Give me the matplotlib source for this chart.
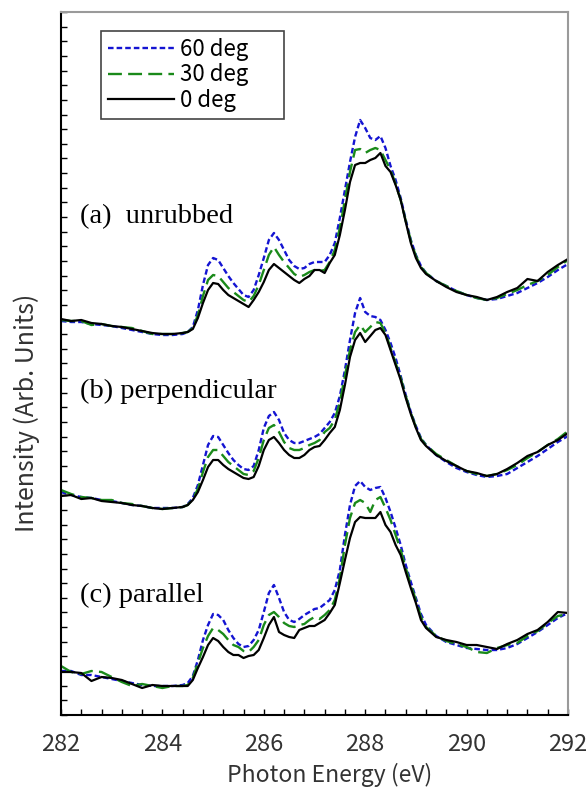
import matplotlib
matplotlib.use('Agg')
import matplotlib.pyplot as plt
from matplotlib.ticker import MultipleLocator, NullFormatter

plt.rcParams['lines.scale_dashes'] = False

# Photon energy grid (eV)
energy = [282.0, 282.2, 282.4, 282.6, 282.8, 283.0, 283.2, 283.4, 283.6, 283.8, 284.0, 284.2, 284.4,
          284.5, 284.6, 284.7, 284.8, 284.9, 285.0, 285.1, 285.2, 285.3, 285.4, 285.5, 285.6, 285.7,
          285.8, 285.9, 286.0, 286.1, 286.2, 286.3, 286.4, 286.5, 286.6, 286.7, 286.8, 286.9, 287.0,
          287.1, 287.2, 287.3, 287.4, 287.5, 287.6, 287.7, 287.8, 287.9, 288.0, 288.1, 288.2, 288.3,
          288.4, 288.5, 288.6, 288.7, 288.8, 288.9, 289.0, 289.1, 289.2,
          289.4, 289.6, 289.8, 290.0, 290.2, 290.4, 290.6, 290.8, 291.0, 291.2, 291.4, 291.6, 291.8, 292.0]

# (a) unrubbed (offset intensities, arb. units)
a_60 = [394, 393, 393, 391, 390, 389, 387, 385, 383, 381, 380, 380, 381,
        383, 388, 405, 430, 450, 457, 455, 447, 439, 432, 426, 420, 418, 425, 440, 457, 475, 482, 475,
        465, 455, 449, 446, 447, 451, 453, 453, 453, 460, 472, 497, 525, 553, 578, 595, 587, 577, 575,
        579, 567, 549, 535, 517, 495, 475, 460, 449, 442,
        434, 429, 424, 420, 417, 415, 416, 419, 422, 427, 432, 438, 445, 451]
a_30 = [395, 394, 394, 390, 391, 389, 388, 387, 384, 381, 381, 381, 382,
        383, 387, 400, 419, 435, 440, 439, 433, 427, 423, 419, 415, 413, 419, 430, 445, 460, 468, 460,
        453, 447, 441, 438, 440, 443, 445, 444, 445, 453, 465, 487, 515, 543, 565, 566, 562, 565, 567,
        565, 555, 545, 531, 515, 494, 474, 459, 448, 442,
        434, 429, 424, 420, 417, 415, 417, 421, 425, 430, 434, 440, 448, 455]
a_0 = [396, 394, 395, 392, 391, 389, 388, 386, 384, 382, 381, 381, 382,
       383, 386, 397, 412, 425, 432, 431, 425, 420, 417, 414, 411, 408, 415, 423, 433, 445, 451, 447,
       443, 439, 435, 432, 436, 439, 445, 445, 442, 452, 460, 480, 505, 533, 550, 552, 552, 555, 557,
       562, 549, 543, 530, 515, 493, 472, 457, 447, 441,
       434, 428, 423, 420, 418, 415, 418, 423, 427, 436, 434, 443, 450, 456]

# (b) perpendicular
b_60 = [223, 220, 218, 217, 215, 214, 212, 210, 209, 207, 207, 207, 208,
        211, 217, 230, 250, 270, 279, 278, 270, 262, 255, 250, 246, 245, 249, 265, 287, 299, 303, 295,
        282, 275, 272, 272, 274, 276, 278, 281, 287, 293, 302, 319, 345, 375, 402, 417, 403, 399, 398,
        395, 385, 372, 357, 339, 320, 303, 289, 277, 270,
        260, 253, 247, 243, 240, 238, 239, 241, 247, 253, 259, 266, 273, 279]
b_30 = [225, 221, 218, 217, 215, 215, 212, 211, 209, 207, 206, 207, 208,
        210, 216, 226, 243, 258, 265, 265, 259, 253, 249, 245, 241, 240, 244, 257, 275, 287, 290, 283,
        273, 267, 265, 265, 267, 270, 272, 275, 283, 287, 295, 313, 339, 365, 383, 390, 383, 388, 393,
        392, 382, 367, 352, 337, 319, 302, 288, 276, 270,
        261, 255, 249, 244, 241, 239, 241, 245, 250, 257, 263, 270, 276, 284]
b_0 = [219, 220, 216, 217, 214, 213, 212, 210, 209, 207, 206, 207, 208,
       210, 215, 223, 235, 248, 255, 255, 250, 246, 243, 240, 237, 236, 238, 249, 265, 275, 278, 272,
       265, 260, 257, 257, 260, 265, 268, 269, 275, 282, 288, 305, 330, 358, 375, 382, 373, 379, 385,
       387, 380, 365, 350, 335, 317, 301, 287, 275, 269,
       260, 254, 249, 244, 242, 239, 241, 246, 252, 259, 263, 270, 275, 282]

# (c) parallel
c_60 = [44, 44, 40, 40, 38, 36, 34, 32, 30, 29, 29, 29, 30,
        32, 39, 55, 75, 90, 101, 100, 95, 85, 77, 71, 68, 69, 75, 85, 103, 122, 130, 117,
        103, 95, 93, 96, 100, 103, 106, 107, 111, 115, 125, 145, 180, 210, 229, 234, 228, 225, 227,
        228, 217, 203, 187, 170, 150, 133, 117, 101, 90,
        79, 73, 70, 67, 66, 65, 65, 67, 71, 77, 83, 90, 97, 102]
c_30 = [49, 43, 41, 44, 43, 38, 33, 29, 31, 29, 27, 29, 29,
        30, 37, 52, 67, 79, 87, 85, 81, 75, 70, 68, 64, 63, 68, 75, 90, 100, 103, 98,
        92, 89, 88, 90, 91, 95, 98, 96, 100, 105, 115, 137, 170, 197, 212, 215, 212, 203, 215,
        218, 207, 195, 180, 165, 147, 130, 115, 98, 88,
        79, 74, 71, 68, 63, 62, 67, 70, 72, 79, 84, 92, 99, 101]
c_0 = [43, 43, 42, 34, 38, 37, 35, 31, 27, 30, 29, 29, 29,
       29, 35, 47, 58, 70, 77, 74, 68, 63, 60, 60, 57, 59, 60, 65, 77, 90, 98, 83,
       80, 78, 77, 85, 87, 89, 89, 92, 95, 102, 110, 132, 155, 177, 193, 198, 197, 197, 197,
       203, 190, 183, 170, 160, 143, 127, 112, 95, 87,
       78, 75, 73, 70, 70, 68, 66, 71, 75, 81, 85, 93, 103, 102]

series_labels = ['60 deg', '30 deg', '0 deg']
panel_labels = ['(a)  unrubbed', '(b) perpendicular', '(c) parallel']
panels = [(a_60, a_30, a_0), (b_60, b_30, b_0), (c_60, c_30, c_0)]
panel_label_y = [498, 324, 120]
x_ticks = [282, 284, 286, 288, 290, 292]

gothic = ['Noto Sans CJK JP', 'DejaVu Sans']
serif = ['Liberation Serif', 'DejaVu Serif']

styles = [dict(color='#1414d2', dashes=(4.0, 2.2), lw=1.7),
          dict(color='#1a8a1a', dashes=(10.0, 4.5), lw=1.7),
          dict(color='black', lw=1.6)]

fig = plt.figure(figsize=(5.87, 7.87), dpi=100)
ax = fig.add_axes([61 / 587, 72 / 787, 507 / 587, 703 / 787])

for i, trio in enumerate(panels):
    for j, vals in enumerate(trio):
        ax.plot(energy, vals, label=series_labels[j] if i == 0 else None, **styles[j])
    ax.text(282.375, panel_label_y[i], panel_labels[i], family=serif, fontsize=20.5,
            ha='left', va='center', color='black')

ax.set_xlim(282, 292)
ax.set_ylim(0, 703)
ax.set_xticks(x_ticks)
ax.set_xticklabels([str(t) for t in x_ticks], family=gothic, fontsize=17, color='#333333')
ax.xaxis.set_minor_locator(MultipleLocator(0.4))
ax.yaxis.set_major_locator(MultipleLocator(703 / 48))
ax.yaxis.set_major_formatter(NullFormatter())
ax.tick_params(axis='x', which='both', direction='in', length=4, width=1, pad=13)
ax.tick_params(axis='y', which='both', direction='in', length=4, width=1)

for s in ['left', 'bottom']:
    ax.spines[s].set_color('black')
    ax.spines[s].set_linewidth(1.5)
for s in ['top', 'right']:
    ax.spines[s].set_color('#9a9a9a')
    ax.spines[s].set_linewidth(1.5)

x0 = (101 - 61) / 507
y_top = (715 - 31) / 703
y_bot = (715 - 114) / 703
w = (284 - 101) / 507
leg = ax.legend(loc='upper left', bbox_to_anchor=(x0, y_bot, w, y_top - y_bot), mode='expand',
                borderaxespad=0, fancybox=False, framealpha=1, edgecolor='#444444',
                prop={'family': gothic, 'size': 16}, handlelength=3.0, handletextpad=0.25,
                labelspacing=0.12, borderpad=0.3)
leg.get_frame().set_linewidth(1.2)

fig.text(330 / 587, 1 - 775 / 787, 'Photon Energy (eV)', family=gothic, fontsize=16.5,
         ha='center', va='center', color='#333333')
fig.text(27 / 587, 1 - 413 / 787, 'Intensity (Arb. Units)', family=gothic, fontsize=18,
         ha='center', va='center', rotation=90, color='#333333')

fig.savefig('out.png', dpi=100)
